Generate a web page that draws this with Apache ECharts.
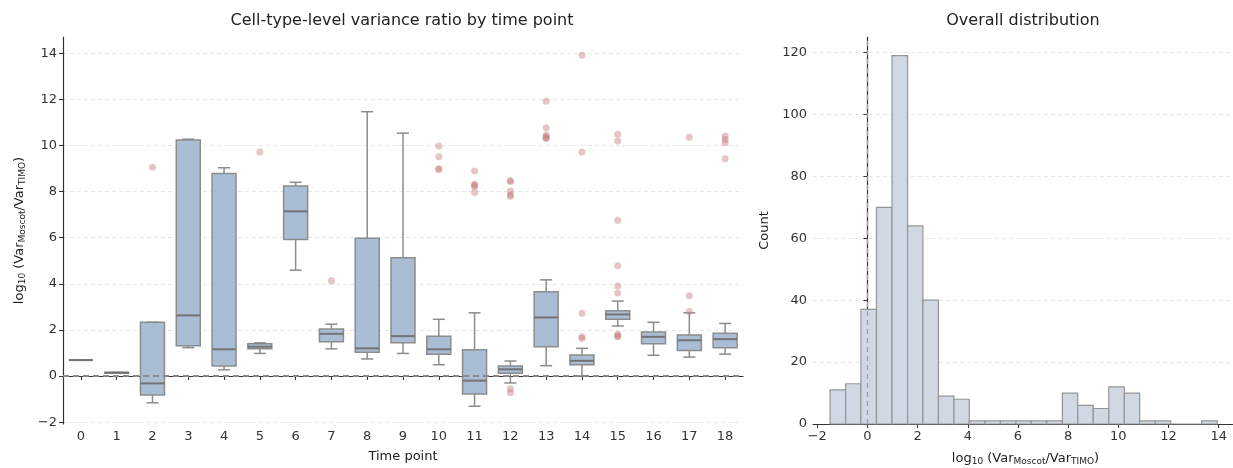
<!DOCTYPE html>
<html lang="en">
<head>
    <meta charset="utf-8">
    <title>Cell-type-level variance ratio</title>
    <script src="https://cdn.jsdelivr.net/npm/echarts@6.0.0/dist/echarts.min.js"></script>
    <style>
        html, body { margin: 0; padding: 0; background: #fff; }
        #main { width: 1233px; height: 468px; }
    </style>
</head>
<body>
<div id="main"></div>
<script type="text/javascript">
    // time points on the x axis of the box plot
    var timePoints = ['0', '1', '2', '3', '4', '5', '6', '7', '8', '9',
        '10', '11', '12', '13', '14', '15', '16', '17', '18'];

    // per time point: [lower whisker, Q1, median, Q3, upper whisker]
    var boxStats = [
        [0.69, 0.69, 0.69, 0.69, 0.69],
        [0.13, 0.13, 0.14, 0.16, 0.16],
        [-1.16, -0.82, -0.32, 2.33, 2.33],
        [1.23, 1.31, 2.63, 10.23, 10.27],
        [0.27, 0.43, 1.16, 8.78, 9.03],
        [0.98, 1.18, 1.27, 1.40, 1.44],
        [4.59, 5.92, 7.14, 8.24, 8.40],
        [1.18, 1.49, 1.83, 2.04, 2.25],
        [0.74, 1.03, 1.20, 5.97, 11.46],
        [0.98, 1.44, 1.73, 5.13, 10.53],
        [0.49, 0.94, 1.16, 1.73, 2.46],
        [-1.31, -0.78, -0.20, 1.14, 2.74],
        [-0.30, 0.12, 0.29, 0.43, 0.65],
        [0.45, 1.27, 2.54, 3.65, 4.17],
        [0.00, 0.49, 0.66, 0.91, 1.20],
        [2.17, 2.46, 2.67, 2.83, 3.25],
        [0.90, 1.40, 1.70, 1.91, 2.33],
        [0.82, 1.11, 1.55, 1.78, 2.74],
        [0.95, 1.23, 1.60, 1.86, 2.28]
    ];

    // outliers: [time point index, value]
    var outliers = [
        [2, 9.05],
        [5, 9.71],
        [7, 4.13],
        [10, 9.97], [10, 9.51], [10, 8.99], [10, 8.96],
        [11, 8.89], [11, 8.31], [11, 8.27], [11, 8.22], [11, 7.96],
        [12, 8.47], [12, 8.43], [12, 8.02], [12, 7.85], [12, 7.80], [12, -0.55], [12, -0.72],
        [13, 11.91], [13, 10.76], [13, 10.45], [13, 10.38], [13, 10.33], [13, 10.30],
        [14, 13.91], [14, 9.71], [14, 2.72], [14, 1.70], [14, 1.63],
        [15, 10.48], [15, 10.19], [15, 6.75], [15, 4.78], [15, 3.90], [15, 3.60], [15, 1.81], [15, 1.74], [15, 1.70],
        [17, 10.35], [17, 3.48], [17, 2.80],
        [18, 10.40], [18, 10.26], [18, 10.11], [18, 9.42]
    ];

    // histogram of all log10 ratios
    var binEdges = [-1.49, -0.87, -0.26, 0.36, 0.98, 1.60, 2.21, 2.83, 3.45, 4.06, 4.68, 5.30, 5.92,
        6.53, 7.15, 7.77, 8.38, 9.00, 9.62, 10.24, 10.85, 11.47, 12.09, 12.70, 13.32, 13.94];
    var binCounts = [11, 13, 37, 70, 119, 64, 40, 9, 8, 1, 1, 1, 1, 1, 1,
        10, 6, 5, 12, 10, 1, 1, 0, 0, 1];

    // tick labels
    var boxYTicks = [-2, 0, 2, 4, 6, 8, 10, 12, 14];
    var histXTicks = [-2, 0, 2, 4, 6, 8, 10, 12, 14];
    var histYTicks = [0, 20, 40, 60, 80, 100, 120];

    var FONT = 'DejaVu Sans';
    var ratioName = '{n|log}{s|10}{n| (Var}{s|Moscot}{n|/Var}{s|TIMO}{n|)}';
    var ratioRich = {
        n: {fontFamily: FONT, fontSize: 13, color: '#222'},
        s: {fontFamily: FONT, fontSize: 9, color: '#222', padding: [6, 0, 0, 0]}
    };

    function minusFmt(v) {
        return String(v).replace('-', '\u2212');
    }

    var boxData = boxStats.map(function (s, i) {
        return [i, s[0], s[1], s[2], s[3], s[4]];
    });
    var histData = binCounts.map(function (c, i) {
        return [binEdges[i], binEdges[i + 1], c];
    });

    function renderBox(params, api) {
        var i = api.value(0);
        var lo = api.coord([i, api.value(1)]);
        var q1 = api.coord([i, api.value(2)]);
        var med = api.coord([i, api.value(3)]);
        var q3 = api.coord([i, api.value(4)]);
        var hi = api.coord([i, api.value(5)]);
        var w = api.size([1, 0])[0] * 0.67;
        var x = med[0];
        var stroke = '#8c8c8c';
        var lw = 1.5;
        return {
            type: 'group',
            children: [
                {type: 'line', shape: {x1: x, y1: hi[1], x2: x, y2: q3[1]}, style: {stroke: stroke, lineWidth: lw}},
                {type: 'line', shape: {x1: x, y1: q1[1], x2: x, y2: lo[1]}, style: {stroke: stroke, lineWidth: lw}},
                {type: 'line', shape: {x1: x - w / 4, y1: hi[1], x2: x + w / 4, y2: hi[1]}, style: {stroke: stroke, lineWidth: lw}},
                {type: 'line', shape: {x1: x - w / 4, y1: lo[1], x2: x + w / 4, y2: lo[1]}, style: {stroke: stroke, lineWidth: lw}},
                {type: 'rect', shape: {x: x - w / 2, y: q3[1], width: w, height: q1[1] - q3[1]},
                    style: {fill: '#a9bdd5', stroke: stroke, lineWidth: lw}},
                {type: 'line', shape: {x1: x - w / 2, y1: med[1], x2: x + w / 2, y2: med[1]},
                    style: {stroke: '#737373', lineWidth: 2}}
            ]
        };
    }

    function renderBin(params, api) {
        var a = api.coord([api.value(0), api.value(2)]);
        var b = api.coord([api.value(1), 0]);
        return {
            type: 'rect',
            shape: {x: a[0], y: a[1], width: b[0] - a[0], height: b[1] - a[1]},
            style: {fill: '#d0d9e3', stroke: '#959595', lineWidth: 1.2}
        };
    }

    var tickStyle = {show: true, length: 4, lineStyle: {color: '#333'}};
    var labelStyle = {fontFamily: FONT, fontSize: 13, color: '#333', margin: 6, formatter: minusFmt};
    var axisLineStyle = {show: true, lineStyle: {color: '#333', width: 1.2}};
    var gridSplit = {show: true, lineStyle: {color: '#e6e6e6', type: [4, 3], width: 1}};

    var myChart = echarts.init(document.getElementById('main'));
    var option = {
        animation: false,
        backgroundColor: '#fff',
        graphic: [
            {type: 'text', x: 402, y: 21, style: {text: 'Cell-type-level variance ratio by time point',
                    font: '16px "DejaVu Sans"', fill: '#222', align: 'center', verticalAlign: 'middle'}},
            {type: 'text', x: 1023, y: 21, style: {text: 'Overall distribution',
                    font: '16px "DejaVu Sans"', fill: '#222', align: 'center', verticalAlign: 'middle'}}
        ],
        grid: [
            {left: 63, top: 37, width: 680, height: 387, outerBoundsMode: 'none'},
            {left: 813, top: 37, width: 425, height: 387, outerBoundsMode: 'none'}
        ],
        xAxis: [
            {
                type: 'category', gridIndex: 0, data: timePoints, boundaryGap: true,
                axisLine: axisLineStyle,
                axisTick: {show: true, alignWithLabel: true, length: 4, lineStyle: {color: '#333'}},
                axisLabel: labelStyle,
                splitLine: {show: false},
                name: 'Time point', nameLocation: 'middle', nameGap: 26,
                nameTextStyle: {fontFamily: FONT, fontSize: 13, color: '#222'}
            },
            {
                type: 'value', gridIndex: 1, min: -2.17, max: 14.77,
                axisLine: axisLineStyle,
                axisTick: Object.assign({customValues: histXTicks}, tickStyle),
                axisLabel: Object.assign({customValues: histXTicks}, labelStyle),
                splitLine: {show: false},
                name: ratioName, nameLocation: 'middle', nameGap: 27,
                nameTextStyle: {rich: ratioRich}
            }
        ],
        yAxis: [
            {
                type: 'value', gridIndex: 0, min: -2.08, max: 14.7,
                axisLine: axisLineStyle,
                axisTick: Object.assign({customValues: boxYTicks}, tickStyle),
                axisLabel: Object.assign({customValues: boxYTicks}, labelStyle),
                splitLine: gridSplit,
                name: ratioName, nameLocation: 'middle', nameGap: 34,
                nameTextStyle: {rich: ratioRich}
            },
            {
                type: 'value', gridIndex: 1, min: 0, max: 125,
                axisLine: axisLineStyle,
                axisTick: Object.assign({customValues: histYTicks}, tickStyle),
                axisLabel: Object.assign({customValues: histYTicks}, labelStyle),
                splitLine: gridSplit,
                name: 'Count', nameLocation: 'middle', nameGap: 42,
                nameTextStyle: {fontFamily: FONT, fontSize: 13, color: '#222'}
            }
        ],
        series: [
            {
                type: 'custom', name: 'box', xAxisIndex: 0, yAxisIndex: 0,
                renderItem: renderBox, data: boxData,
                encode: {x: 0, y: [1, 2, 3, 4, 5]}, z: 2
            },
            {
                type: 'scatter', name: 'outliers', xAxisIndex: 0, yAxisIndex: 0,
                data: outliers, symbolSize: 7,
                itemStyle: {color: 'rgba(196, 122, 124, 0.55)'}, z: 3
            },
            {
                type: 'line', name: 'zeroBox', xAxisIndex: 0, yAxisIndex: 0, data: [], z: 10,
                markLine: {
                    silent: true, symbol: 'none', label: {show: false},
                    lineStyle: {color: '#8a8a8a', type: [6, 4], width: 1.8},
                    data: [{yAxis: 0}]
                }
            },
            {
                type: 'custom', name: 'hist', xAxisIndex: 1, yAxisIndex: 1,
                renderItem: renderBin, data: histData,
                encode: {x: [0, 1], y: 2}, z: 2
            },
            {
                type: 'line', name: 'zeroHist', xAxisIndex: 1, yAxisIndex: 1, data: [], z: 10,
                markLine: {
                    silent: true, symbol: 'none', label: {show: false},
                    lineStyle: {color: '#a0a0a0', type: [5, 4], width: 1.3},
                    data: [{xAxis: 0}]
                }
            }
        ]
    };
    myChart.setOption(option);
</script>
</body>
</html>
